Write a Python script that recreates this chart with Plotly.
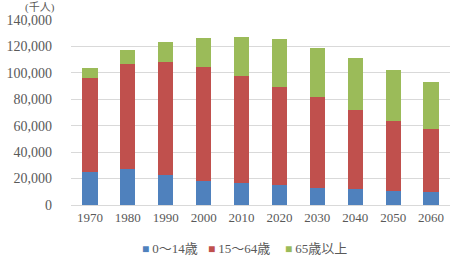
import plotly.graph_objects as go

years = ["1970", "1980", "1990", "2000", "2010", "2020", "2030", "2040", "2050", "2060"]
age_0_14 = [24823, 27507, 22486, 18472, 16803, 15075, 13212, 11936, 10767, 9508]
age_15_64 = [71566, 78835, 85904, 86220, 81032, 74058, 68754, 59777, 52750, 47928]
age_65_plus = [7331, 10647, 14895, 22005, 29246, 36192, 37160, 39206, 38406, 35403]
series_names = ["0～14歳", "15～64歳", "65歳以上"]
colors = ["#4F81BD", "#C0504D", "#9BBB59"]
y_ticks = [0, 20000, 40000, 60000, 80000, 100000, 120000, 140000]

FONT = "Liberation Serif, Noto Sans CJK JP, serif"
L, R, T, B = 67, 6, 20, 70
W, H = 456, 275
PW, PH = W - L - R, H - T - B

fig = go.Figure()
for name, vals, col in zip(series_names, [age_0_14, age_15_64, age_65_plus], colors):
    fig.add_trace(go.Bar(x=years, y=vals, name=name, showlegend=False,
                         marker=dict(color=col, line=dict(width=0))))

# legend drawn as text entries (small squares close to labels, as in the reference)
legend_px = [137, 203, 281]
annotations = []
for name, col, px in zip(series_names, colors, legend_px):
    annotations.append(dict(
        text=f"<span style='color:{col};font-size:12px'>■ </span>{name}",
        xref="paper", yref="paper", x=(px - L) / PW, y=(T + PH - 248) / PH,
        xanchor="left", yanchor="middle", showarrow=False,
        font=dict(size=13, color="#595959", family=FONT)))
annotations.append(dict(text="(千人)", xref="paper", yref="paper",
                        x=(36 - L) / PW, y=(T + PH - 7) / PH,
                        xanchor="center", yanchor="middle", showarrow=False,
                        borderpad=0,
                        font=dict(size=11, color="#595959", family=FONT)))

fig.update_layout(
    barmode="stack",
    bargap=0.6,
    width=W, height=H,
    margin=dict(l=L, r=R, t=T, b=B),
    paper_bgcolor="white", plot_bgcolor="white",
    font=dict(family=FONT, size=13, color="#595959"),
    showlegend=False,
    xaxis=dict(type="category", showline=True, linecolor="#D9D9D9", linewidth=1,
               ticks="", tickfont=dict(size=13, color="#595959")),
    yaxis=dict(range=[0, 140000], tickvals=y_ticks, tickformat=",d",
               showgrid=True, gridcolor="#D9D9D9", gridwidth=1, zeroline=False,
               ticks="", ticklabelstandoff=18, tickfont=dict(size=14, color="#595959")),
    annotations=annotations,
)

fig.write_html("out.html")
